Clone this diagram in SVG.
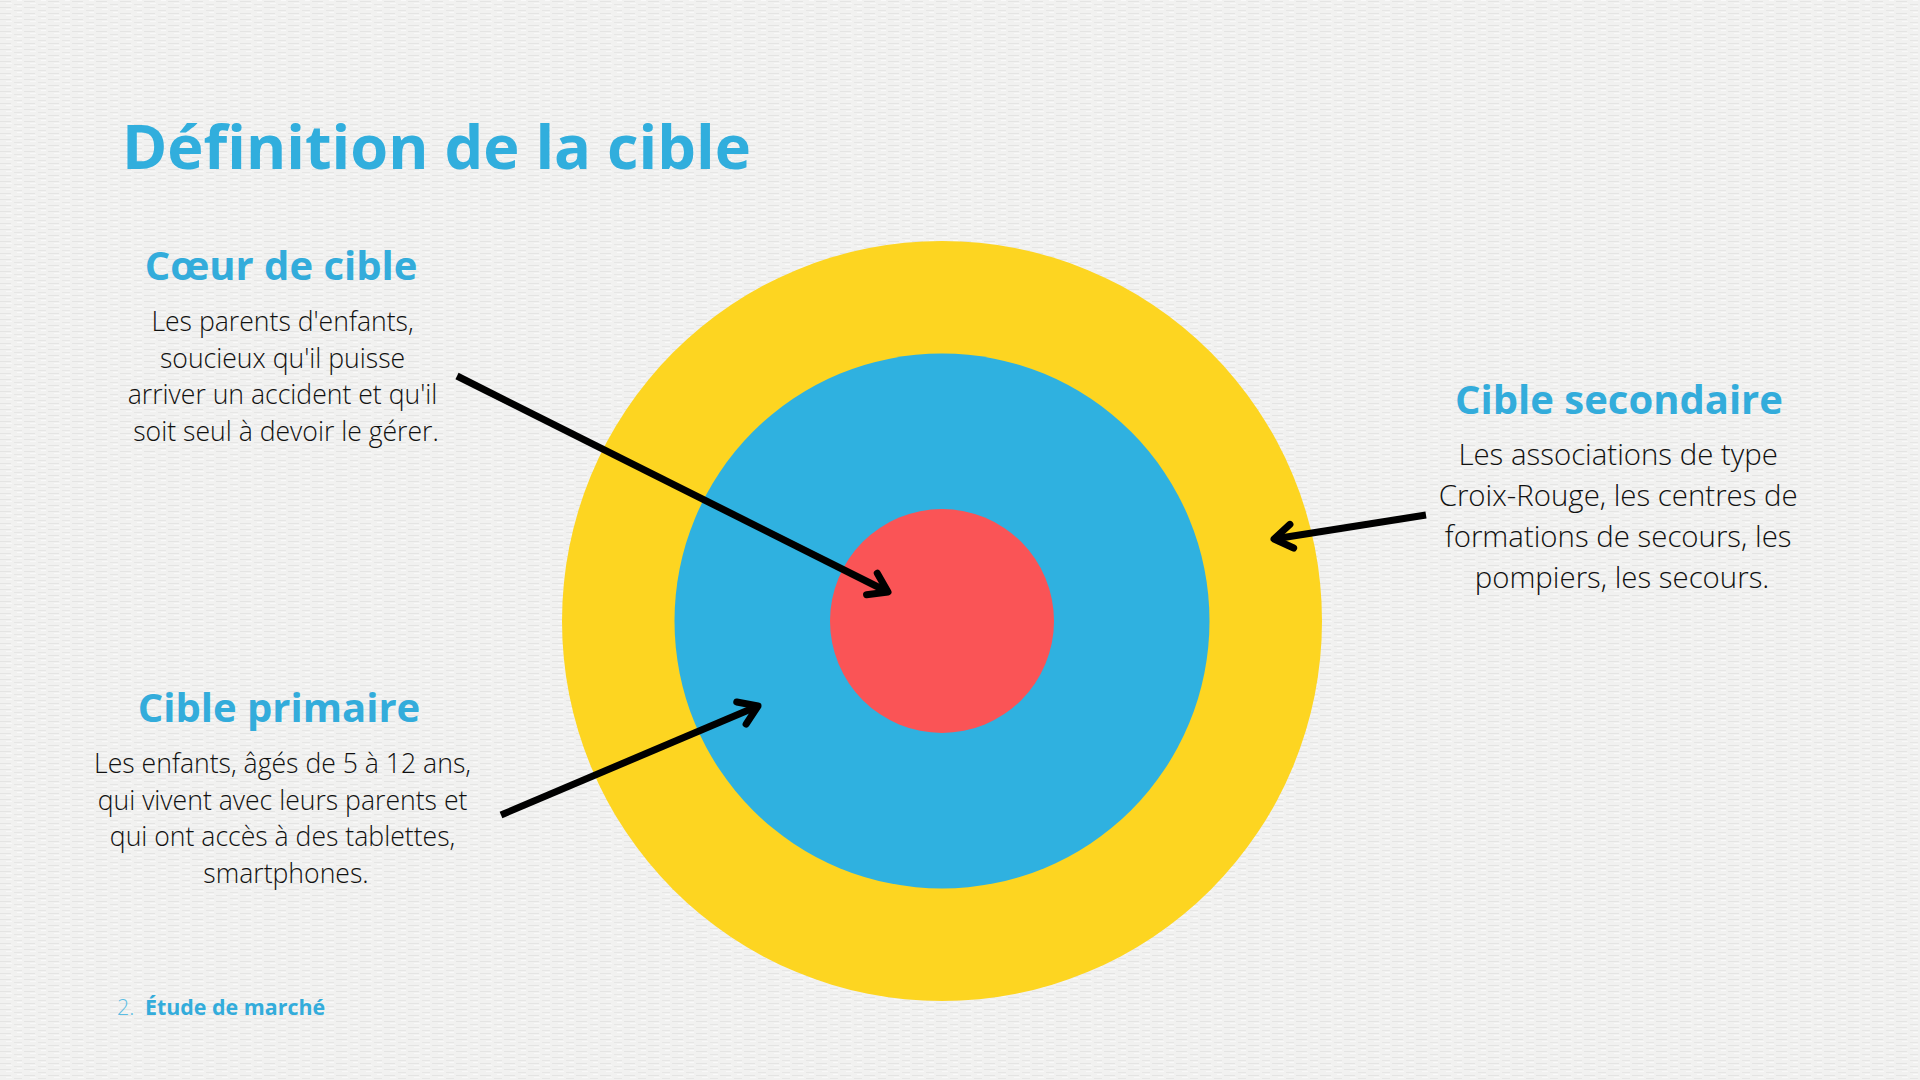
<svg xmlns="http://www.w3.org/2000/svg" width="1920" height="1080" viewBox="0 0 1920 1080">
  <defs>
    <pattern id="paper" width="24" height="6" patternUnits="userSpaceOnUse">
      <rect width="24" height="6" fill="#f1f1f0"/>
      <rect x="0" y="1" width="11" height="1" fill="#e4e4e3"/>
      <rect x="14" y="4" width="8" height="1" fill="#e6e6e5"/>
      <rect x="6" y="3" width="6" height="1" fill="#f8f8f8"/>
      <rect x="17" y="0" width="5" height="1" fill="#f9f9f9"/>
    </pattern>
    <marker id="chev" markerUnits="userSpaceOnUse" markerWidth="40" markerHeight="40" refX="0" refY="0" orient="auto" overflow="visible" viewBox="-30 -20 40 40">
      <path d="M-18,-12 L0,0 L-18,12" fill="none" stroke="#000" stroke-width="7" stroke-linecap="round" stroke-linejoin="round"/>
    </marker>
  </defs>
  <style>
    .title { font-family: "Open Sans", "Liberation Sans", sans-serif; font-weight: 700; fill: #31aedd; }
    .head { font-family: "Open Sans", "Liberation Sans", sans-serif; font-weight: 700; font-size: 40px; fill: #33acdb; text-anchor: middle; }
    .body { font-family: "Open Sans", "Liberation Sans", sans-serif; font-weight: 300; fill: #111111; text-anchor: middle; }
    .conn { fill: none; stroke: #000; stroke-width: 7; stroke-linecap: butt; marker-end: url(#chev); }
  </style>
  <rect width="1920" height="1080" fill="url(#paper)"/>

  <g id="target">
    <circle cx="942" cy="621" r="380" fill="#fdd521"/>
    <circle cx="942" cy="621" r="267.5" fill="#2fb1e0"/>
    <circle cx="942" cy="621" r="112" fill="#fa5456"/>
  </g>

  <text class="title" x="122" y="169" font-size="61.3">Définition de la cible</text>

  <g id="coeur">
    <text class="head" x="281" y="280">Cœur de cible</text>
    <text class="body" font-size="26.6">
      <tspan x="286" y="331">Les parents d'enfants,</tspan>
      <tspan x="286" y="368">soucieux qu'il puisse</tspan>
      <tspan x="286" y="404">arriver un accident et qu'il</tspan>
      <tspan x="286" y="441">soit seul à devoir le gérer.</tspan>
    </text>
  </g>

  <g id="primaire">
    <text class="head" x="279" y="722">Cible primaire</text>
    <text class="body" font-size="26.6">
      <tspan x="286" y="773">Les enfants, âgés de 5 à 12 ans,</tspan>
      <tspan x="286" y="810">qui vivent avec leurs parents et</tspan>
      <tspan x="286" y="846">qui ont accès à des tablettes,</tspan>
      <tspan x="286" y="883">smartphones.</tspan>
    </text>
  </g>

  <g id="secondaire">
    <text class="head" x="1619" y="414">Cible secondaire</text>
    <text class="body" font-size="29.4">
      <tspan x="1622" y="465">Les associations de type</tspan>
      <tspan x="1622" y="506">Croix-Rouge, les centres de</tspan>
      <tspan x="1622" y="547">formations de secours, les</tspan>
      <tspan x="1622" y="588">pompiers, les secours.</tspan>
    </text>
  </g>

  <g id="footer">
    <text x="117" y="1015" font-family="'Open Sans', 'Liberation Sans', sans-serif" font-weight="300" font-size="21.4" fill="#5cbde3">2.</text>
    <text x="145" y="1015" font-family="'Open Sans', 'Liberation Sans', sans-serif" font-weight="700" font-size="21.4" fill="#33acdb">Étude de marché</text>
  </g>

  <g id="connectors">
    <line class="conn" x1="457" y1="376" x2="888" y2="592"/>
    <line class="conn" x1="501" y1="815" x2="758" y2="706"/>
    <line class="conn" x1="1426" y1="515" x2="1274" y2="539"/>
  </g>
</svg>
